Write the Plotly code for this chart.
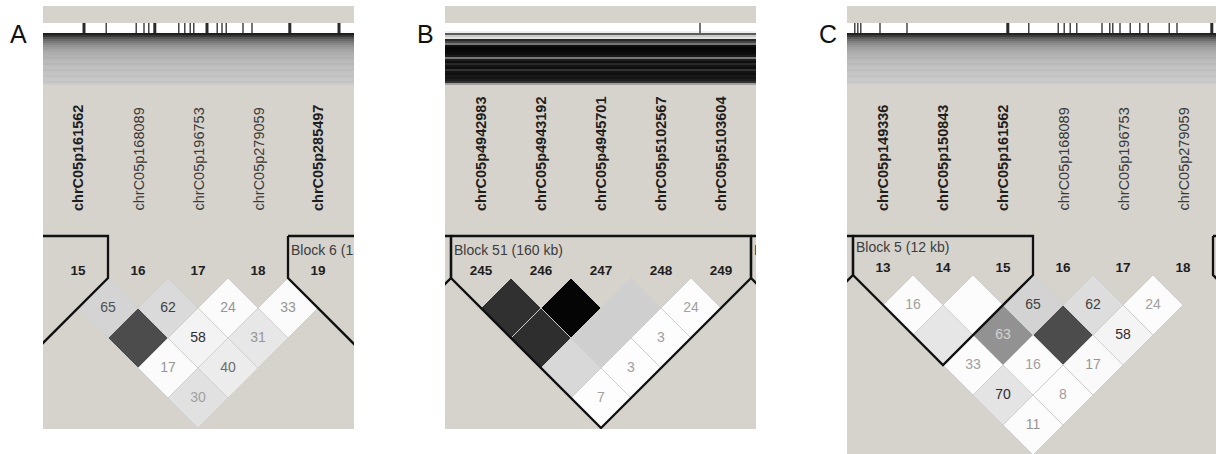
import plotly.graph_objects as go

FONT = "Liberation Sans"
BG = "#d6d3cd"
W, H = 1216, 454

# ---------------- Panel A ----------------
A_names = ["chrC05p161562", "chrC05p168089", "chrC05p196753", "chrC05p279059", "chrC05p285497"]
A_numbers = [15, 16, 17, 18, 19]
A_bold = [True, False, False, False, True]
# LD cells listed row by row (marker distance 1, 2, ...), left to right
A_ld_text = [65, 62, 24, 33, None, 58, 31, 17, 40, 30]
A_ld_gray = [212, 218, 251, 251, 76, 243, 231, 251, 236, 225]
A_ld_tgray = [80, 64, 150, 150, 0, 45, 150, 150, 110, 160]
A_blocks = [(-4, 0), (4, 8)]
A_block_labels = [None, "Block 6 (1"]
A_ticks = [0.10, 0.47, 0.97, 1.10, 1.18, 1.28, 1.68, 1.78, 1.87, 1.93, 2.15, 2.32, 2.40, 2.47, 2.75, 2.90, 3.53, 4.35]
A_tick_heavy = [True, False, False, False, False, True, False, False, False, False, True, False, False, False, False, False, True, True]
A_header = [255, 255, 255, 255, 250, 30, 55, 85, 105, 122, 136, 148, 156, 163, 170, 174,
            178, 176, 184, 186, 182, 190, 192, 188, 194, 196, 192, 198, 200, 196, 204]

# ---------------- Panel B ----------------
B_names = ["chrC05p4942983", "chrC05p4943192", "chrC05p4945701", "chrC05p5102567", "chrC05p5103604"]
B_numbers = [245, 246, 247, 248, 249]
B_bold = [True, True, True, True, True]
B_ld_text = [None, None, None, 24, None, None, 3, None, 3, 7]
B_ld_gray = [48, 5, 207, 253, 46, 207, 253, 216, 253, 253]
B_ld_tgray = [0, 0, 0, 160, 0, 0, 160, 0, 160, 160]
B_blocks = [(-5, -1), (0, 4), (5, 9)]
B_block_labels = [None, "Block 51 (160 kb)", "B"]
B_ticks = [3.65]
B_tick_heavy = [False]
B_header = [255, 255, 255, 255, 240, 90, 200, 225, 40, 70, 120, 15, 5, 8, 10, 15,
            25, 120, 30, 15, 40, 20, 15, 50, 20, 15, 25, 20, 30, 50, 160]

# ---------------- Panel C ----------------
C_names = ["chrC05p149336", "chrC05p150843", "chrC05p161562", "chrC05p168089", "chrC05p196753", "chrC05p279059"]
C_numbers = [13, 14, 15, 16, 17, 18]
C_bold = [True, True, True, False, False, False]
C_ld_text = [16, None, 65, 62, 24, None, 63, None, 58, 33, 16, 17, 70, 8, 11]
C_ld_gray = [252, 252, 211, 221, 252, 230, 146, 76, 244, 252, 252, 250, 228, 252, 252]
C_ld_tgray = [160, 0, 64, 64, 160, 0, 210, 0, 45, 160, 160, 150, 45, 160, 150]
C_blocks = [(-4, -1), (0, 2), (6, 10)]
C_block_labels = [None, "Block 5 (12 kb)", None]
C_ticks = [-0.47, -0.42, -0.37, -0.05, 0.40, 2.08, 2.43, 2.92, 3.02, 3.12, 3.23, 3.65, 3.78,
           3.83, 3.95, 4.12, 4.28, 4.42, 4.77, 4.90, 5.48]
C_tick_heavy = [False, False, False, False, False, True, False, False, False, False, False, False, False,
                False, False, False, False, False, False, False, True]
C_header = [255, 255, 255, 255, 250, 35, 60, 90, 110, 128, 140, 152, 160, 166, 172, 176,
            180, 178, 186, 188, 184, 192, 194, 190, 196, 198, 194, 200, 202, 198, 206]

panels = [
    dict(letter="A", names=A_names, nums=A_numbers, bold=A_bold, text=A_ld_text, gray=A_ld_gray,
         tgray=A_ld_tgray, blocks=A_blocks, blabels=A_block_labels, ticks=A_ticks, heavy=A_tick_heavy,
         header=A_header, px_x=(43, 354), px_y=(6, 429), x0=78, y0=278, letter_x=18),
    dict(letter="B", names=B_names, nums=B_numbers, bold=B_bold, text=B_ld_text, gray=B_ld_gray,
         tgray=B_ld_tgray, blocks=B_blocks, blabels=B_block_labels, ticks=B_ticks, heavy=B_tick_heavy,
         header=B_header, px_x=(445, 756), px_y=(6, 429), x0=481, y0=278, letter_x=425),
    dict(letter="C", names=C_names, nums=C_numbers, bold=C_bold, text=C_ld_text, gray=C_ld_gray,
         tgray=C_ld_tgray, blocks=C_blocks, blabels=C_block_labels, ticks=C_ticks, heavy=C_tick_heavy,
         header=C_header, px_x=(847, 1216), px_y=(6, 454), x0=883, y0=275, letter_x=828),
]

XU, YU = 60.0, 30.0          # pixels per marker step / per LD row step
HEADER_PX = (23, 85)
TICK_PX = (23, 33)
NAME_BOTTOM_PX = 213
BLOCK_TOP_PX = 236
NUM_Y = -0.2
BLABEL_Y = -0.88


def gray(g):
    return f"rgb({g},{g},{g})"


fig = go.Figure()
layout = dict(width=W, height=H, margin=dict(l=0, r=0, t=0, b=0), paper_bgcolor="white",
              plot_bgcolor=BG, showlegend=False, annotations=[])

for k, p in enumerate(panels):
    sfx = "" if k == 0 else str(k + 1)
    xa, ya = "x" + sfx, "y" + sfx
    to_y = lambda px, p=p: (px - p["y0"]) / YU
    xr = [(p["px_x"][0] - p["x0"]) / XU, (p["px_x"][1] - p["x0"]) / XU]
    yr = [to_y(p["px_y"][1]), to_y(p["px_y"][0])]
    layout["xaxis" + sfx] = dict(domain=[p["px_x"][0] / W, p["px_x"][1] / W], range=xr, visible=False,
                                 anchor=ya, fixedrange=True)
    layout["yaxis" + sfx] = dict(domain=[1 - p["px_y"][1] / H, 1 - p["px_y"][0] / H], range=yr,
                                 visible=False, anchor=xa, fixedrange=True)

    # header: chromosome strip + fan of connector lines (as gray strips)
    n_h = len(p["header"])
    y_top, y_bot = to_y(HEADER_PX[0]), to_y(HEADER_PX[1])
    y_edges = [y_top + (y_bot - y_top) * i / n_h for i in range(n_h + 1)]
    fig.add_trace(go.Heatmap(z=[[g] for g in p["header"]], x=[xr[0], xr[1]], y=y_edges,
                             colorscale=[[0, "#000000"], [1, "#ffffff"]], zmin=0, zmax=255,
                             showscale=False, hoverinfo="skip", xaxis=xa, yaxis=ya))

    # marker position ticks
    for heavy, wdt in ((False, 1.3), (True, 3)):
        xs, ys = [], []
        for t, h in zip(p["ticks"], p["heavy"]):
            if h == heavy:
                xs += [t, t, None]
                ys += [to_y(TICK_PX[0]), to_y(TICK_PX[1]), None]
        if xs:
            fig.add_trace(go.Scatter(x=xs, y=ys, mode="lines", line=dict(color="#2a2a2a", width=wdt),
                                     hoverinfo="skip", xaxis=xa, yaxis=ya))

    # LD diamonds
    n = len(p["names"])
    cells = [(i, i + d) for d in range(1, n) for i in range(n - d)]
    tx, ty, tt, tc = [], [], [], []
    for (i, j), val, g, tg in zip(cells, p["text"], p["gray"], p["tgray"]):
        cx, cy = (i + j) / 2, j - i
        fig.add_trace(go.Scatter(x=[cx - 0.5, cx, cx + 0.5, cx, cx - 0.5],
                                 y=[cy, cy - 1, cy, cy + 1, cy], mode="lines", fill="toself",
                                 fillcolor=gray(g), line=dict(color="#cfcfcf", width=1),
                                 hoverinfo="skip", xaxis=xa, yaxis=ya))
        if val is not None:
            tx.append(cx); ty.append(cy); tt.append(str(val)); tc.append(gray(tg))
    fig.add_trace(go.Scatter(x=tx, y=ty, text=tt, mode="text",
                             textfont=dict(family=FONT, size=14, color=tc),
                             hoverinfo="skip", xaxis=xa, yaxis=ya))

    # haplotype block outlines
    btop = to_y(BLOCK_TOP_PX)
    for (f, l), lab in zip(p["blocks"], p["blabels"]):
        fig.add_trace(go.Scatter(
            x=[f - 0.5, f - 0.5, (f + l) / 2, l + 0.5, l + 0.5, f - 0.5],
            y=[btop, 0, l - f + 1, 0, btop, btop], mode="lines",
            line=dict(color="#111111", width=2.3), hoverinfo="skip", xaxis=xa, yaxis=ya))
        if lab:
            fig.add_trace(go.Scatter(x=[f - 0.5 + 0.05], y=[BLABEL_Y], text=[lab], mode="text",
                                     textposition="middle right",
                                     textfont=dict(family=FONT, size=14, color="#3c3c3c"),
                                     hoverinfo="skip", xaxis=xa, yaxis=ya))

    # marker numbers
    fig.add_trace(go.Scatter(x=list(range(n)), y=[NUM_Y] * n, text=[str(v) for v in p["nums"]],
                             mode="text", textfont=dict(family=FONT, size=13.5, color="#1e1e1e",
                                                        weight="bold"),
                             hoverinfo="skip", xaxis=xa, yaxis=ya))

    # marker names (vertical)
    for i, (nm, b) in enumerate(zip(p["names"], p["bold"])):
        layout["annotations"].append(dict(
            x=i, y=to_y(NAME_BOTTOM_PX), xref=xa, yref=ya, text=nm, textangle=-90, showarrow=False,
            xanchor="center", yanchor="bottom",
            font=dict(family=FONT, size=14.5, color="#1e1e1e" if b else "#3a3a3a",
                      weight="bold" if b else "normal")))

    # panel letter
    layout["annotations"].append(dict(x=p["letter_x"] / W, y=1 - 34 / H, xref="paper", yref="paper",
                                      text=p["letter"], showarrow=False, xanchor="center",
                                      yanchor="middle", font=dict(family=FONT, size=25, color="#111111")))

fig.update_layout(**layout)
fig.write_html("out.html")
